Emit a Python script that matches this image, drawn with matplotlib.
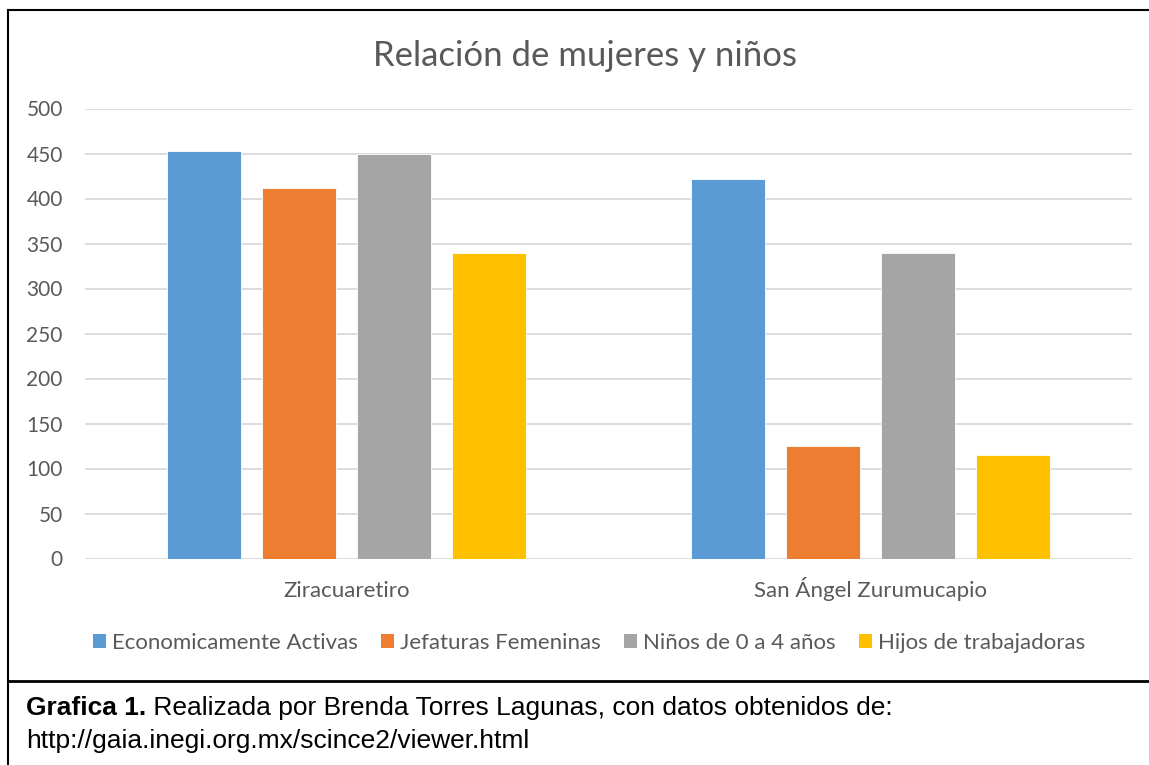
import matplotlib
matplotlib.use("Agg")
import matplotlib.pyplot as plt
import numpy as np
from matplotlib.lines import Line2D
from matplotlib.patches import Patch

categories = ["Ziracuaretiro", "San Ángel Zurumucapio"]
series_names = ["Economicamente Activas", "Jefaturas Femeninas", "Niños de 0 a 4 años", "Hijos de trabajadoras"]
series_values = [
  [453, 422],
  [412, 125],
  [450, 340],
  [340, 115],
]
colors = ["#5B9BD5", "#ED7D31", "#A5A5A5", "#FFC000"]
yticks = [0, 50, 100, 150, 200, 250, 300, 350, 400, 450, 500]

W, H = 1149, 765
plt.rcParams["font.family"] = ["Lato", "DejaVu Sans"]
text_color = "#595959"

fig = plt.figure(figsize=(W / 100, H / 100), dpi=100)
ax = fig.add_axes([85 / W, 1 - 558.5 / H, (1132 - 85) / W, (558.5 - 108.5) / H])

x = np.arange(len(categories))
width = 0.1414
step = 0.1815
for i, (name, vals, c) in enumerate(zip(series_names, series_values, colors)):
  ax.bar(x + (i - 1.5) * step, vals, width, color=c, edgecolor="white", linewidth=0.6, label=name, zorder=3)

ax.set_xlim(-0.5, 1.5)
ax.set_ylim(0, 500)
ax.set_yticks(yticks)
ax.set_xticks([])
for y in yticks:
  ax.axhline(y, color="#d9d9d9", linewidth=1.3, zorder=1)
for s in ax.spines.values():
  s.set_visible(False)
ax.tick_params(axis="y", length=0, pad=16, labelsize=15, labelcolor=text_color)

for xi, cat in zip(x, categories):
  ax.text(xi, -42.5, cat, ha="center", va="baseline", fontsize=16, color=text_color)

fig.text(585 / W, 1 - 56 / H, "Relación de mujeres y niños", ha="center", va="center",
         fontsize=25, color=text_color)

handles = [Patch(facecolor=c, edgecolor="none") for c in colors]
fig.legend(handles, series_names, loc="center", bbox_to_anchor=(589 / W, 1 - 643 / H),
           ncol=4, frameon=False, fontsize=16, labelcolor=text_color,
           handlelength=0.6, handleheight=0.6, handletextpad=0.27, columnspacing=1.03)

# chart frame
fig.add_artist(Line2D([8 / W, 8 / W], [0, 1 - 10 / H], color="black", linewidth=1.5))
fig.add_artist(Line2D([8 / W, 1], [1 - 10 / H, 1 - 10 / H], color="black", linewidth=1.5))
fig.add_artist(Line2D([8 / W, 1], [1 - 681 / H, 1 - 681 / H], color="black", linewidth=2))

# caption
cap = fig.text(26 / W, 1 - 708 / H, "Grafica 1.", ha="left", va="center", fontsize=19,
               fontweight="bold", family="Liberation Sans", color="black")
renderer = fig.canvas.get_renderer()
bb = cap.get_window_extent(renderer)
fig.text(bb.x1 / W, 1 - 708 / H, " Realizada por Brenda Torres Lagunas, con datos obtenidos de:",
         ha="left", va="center", fontsize=19, family="Liberation Sans", color="black")
fig.text(26 / W, 1 - 741 / H, "http://gaia.inegi.org.mx/scince2/viewer.html", ha="left", va="center",
         fontsize=19, family="Liberation Sans", color="black")

fig.savefig("out.png", dpi=100)
